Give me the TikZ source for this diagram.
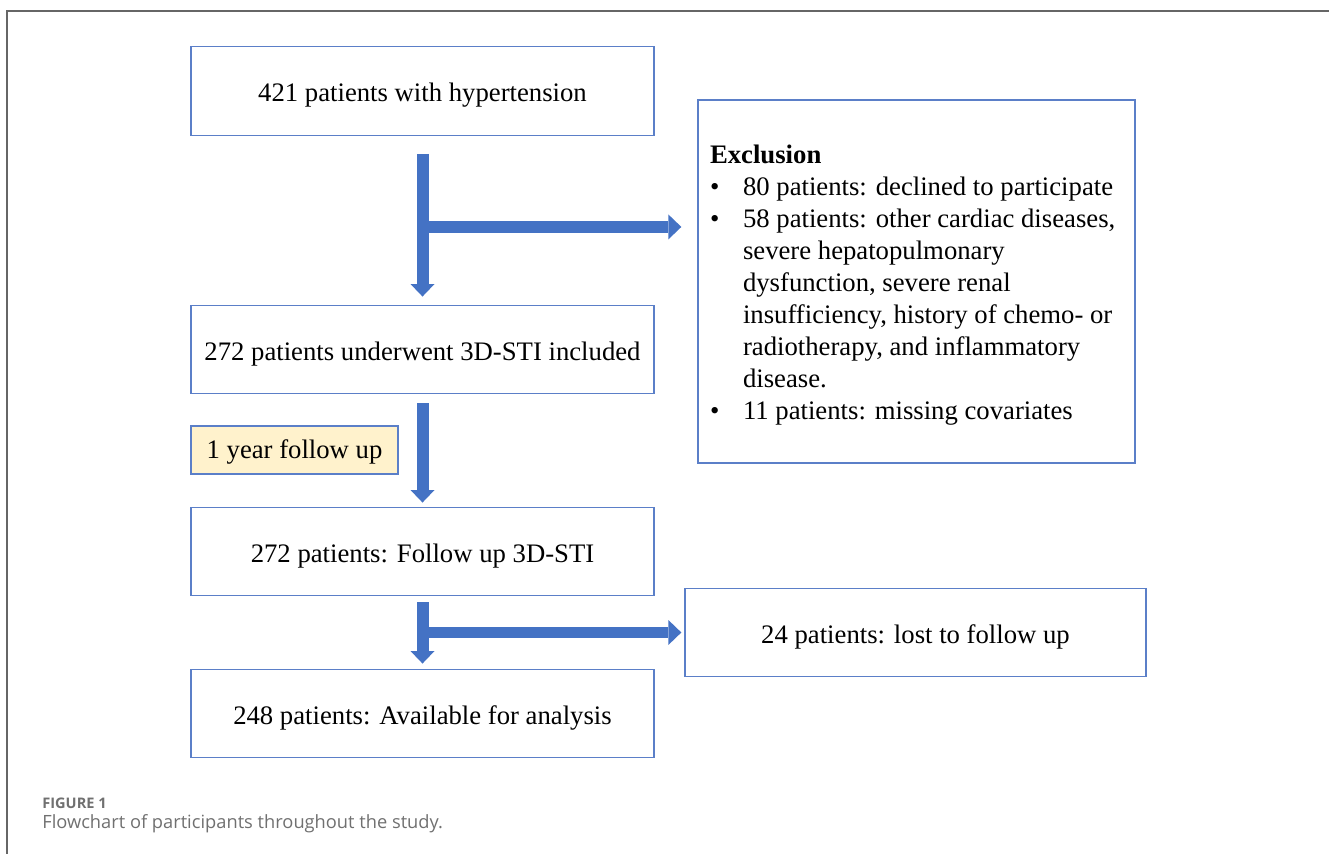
\documentclass[tikz,border=0pt]{standalone}
\usepackage{fontspec}
\setmainfont{Liberation Serif}
\newfontfamily\capfont{Open Sans}
\usepackage{tikz}
\usetikzlibrary{arrows.meta,calc,positioning}
\definecolor{FCBlue}{HTML}{4472C4}
\definecolor{FCEdge}{HTML}{5B7FC8}
\definecolor{FCNote}{HTML}{FFF2CC}
\definecolor{FCFrame}{HTML}{666666}
\definecolor{FCCaption}{HTML}{707070}

\begin{document}
\begin{tikzpicture}[
      x=0.02cm,y=-0.02cm,
      boxline/.style={draw=FCEdge,line width=0.8pt,fill=white,inner sep=0pt,
        font=\fontsize{15.2}{18.2}\selectfont},
      stage/.style={boxline,minimum width=9.26cm,minimum height=1.77cm,
        text height=12pt,text depth=0pt},
      sidebox/.style={stage,minimum width=9.22cm},
      note/.style={stage,fill=FCNote,minimum width=4.14cm,minimum height=0.96cm,
        text height=10pt},
      flow/.style={draw=FCBlue,line width=0.24cm,
        -{Triangle[width=0.48cm,length=0.25cm,line width=0pt]}},
      branch/.style={flow,-{Triangle[width=0.5cm,length=0.26cm,line width=0pt]}}
    ]
    \path[use as bounding box] (0,0) rectangle (1329,854);
    \draw[FCFrame,line width=0.75pt] (7,854) -- (7,11) -- (1329,11);

    % main column
    \node[stage] (all) at (422.5,91) {421 patients with hypertension};
    \node[stage] (base) at (422.5,349.5) {272 patients underwent 3D-STI included};
    \node[stage] (fu) at (422.5,551.5) {272 patients: Follow up 3D-STI};
    \node[stage] (final) at (422.5,713.5) {248 patients: Available for analysis};
    \node[note] (year) at (294.5,450) {1 year follow up};

    % side boxes
    \node[boxline,minimum height=7.26cm,inner xsep=0.24cm,align=left] (excl)
      at (916.5,281.5)
      {\begin{tabular}{@{}p{0.66cm}@{}p{7.6cm}@{}}
        \multicolumn{2}{@{}l@{}}{\rule{0pt}{17.2pt}\textbf{Exclusion}}\\
        \textbullet & 80 patients: declined to participate\\
        \textbullet & 58 patients: other cardiac diseases,\\
                    & severe hepatopulmonary\\
                    & dysfunction, severe renal\\
                    & insufficiency, history of chemo- or\\
                    & radiotherapy, and inflammatory\\
                    & disease.\\
        \textbullet & 11 patients: missing covariates
      \end{tabular}};
    \node[sidebox] (lost) at (915.5,632.5) {24 patients: lost to follow up};

    % arrows
    \draw[flow,shorten <=0.36cm,shorten >=0.16cm] (all.south) -- (base.north);
    \path (all.south) ++(0,91) coordinate (split);
    \draw[branch,shorten >=0.32cm] (split) -- (split -| excl.west);
    \draw[flow,shorten <=0.18cm,shorten >=0.08cm] (base.south) -- (fu.north);
    \draw[flow,shorten <=0.12cm,shorten >=0.1cm] (fu.south) -- (final.north);
    \draw[branch,shorten >=0.06cm] (fu.south |- lost.west) -- (lost.west);

    % caption
    \node[anchor=base west,inner sep=0pt,text=FCCaption,
      font=\capfont\fontsize{8.3}{10}\selectfont\bfseries] (figno) at (42,808) {FIGURE 1};
    \node[anchor=base west,inner sep=0pt,text=FCCaption,
      font=\capfont\fontsize{10.4}{12}\selectfont] (caption) at (42,828)
      {Flowchart of participants throughout the study.};
  \end{tikzpicture}
\end{document}
